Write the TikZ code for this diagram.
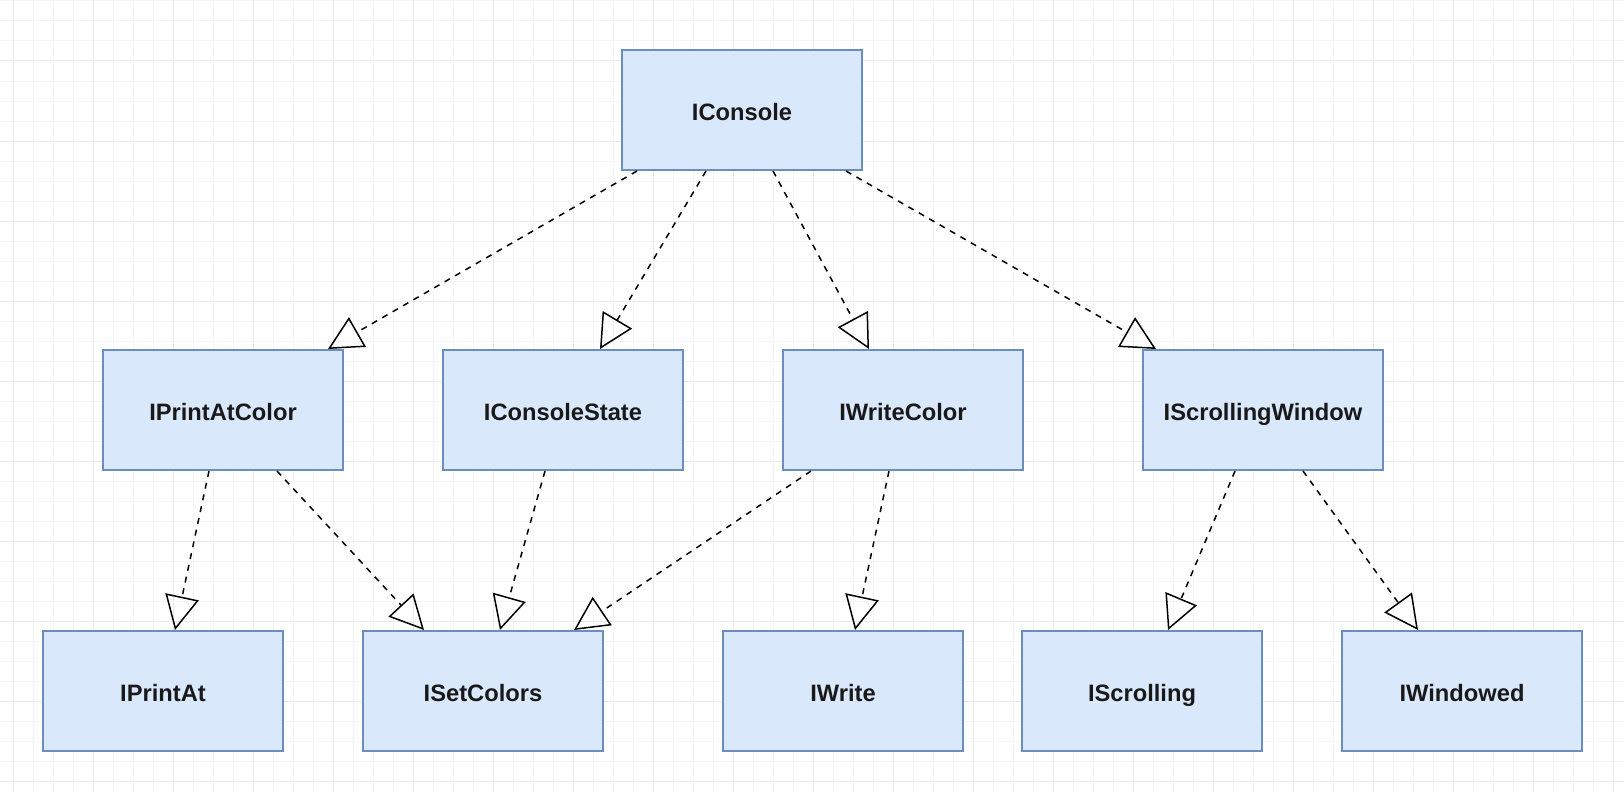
\documentclass[tikz,border=0pt]{standalone}
\usepackage{fontspec}
\setmainfont{Liberation Sans}
\usetikzlibrary{arrows.meta}
\definecolor{boxfill}{HTML}{DAE8FC}
\definecolor{boxline}{HTML}{6C8EBF}
\definecolor{gridminor}{HTML}{F5F5F5}
\definecolor{gridmajor}{HTML}{EAEAEA}
\begin{document}
\begin{tikzpicture}[x=1pt,y=-1pt,
  cls/.style={draw=boxline,fill=boxfill,line width=2pt,minimum width=240pt,minimum height=120pt,
    inner sep=0pt,text height=25pt,text depth=4pt,
    font=\fontsize{23.7}{28}\selectfont\bfseries,text=black!90},
  real/.style={draw=black,line width=1.5pt,dash pattern=on 6pt off 6pt,
    -{Triangle[open,length=34pt,width=34pt,line width=1.5pt]}}]
\useasboundingbox (0,0) rectangle (1624,792);
\fill[white] (0,0) rectangle (1624,792);
\foreach \x in {13,33,...,1613} \draw[gridminor,line width=1pt] (\x,0) -- (\x,792);
\foreach \y in {1,21,...,781} \draw[gridminor,line width=1pt] (0,\y) -- (1624,\y);
\foreach \x in {13,93,...,1613} \draw[gridmajor,line width=1pt] (\x,0) -- (\x,792);
\foreach \y in {61,141,...,781} \draw[gridmajor,line width=1pt] (0,\y) -- (1624,\y);

\node[cls] (ic) at (742,110) {IConsole};
\node[cls] (ipac) at (223,410) {IPrintAtColor};
\node[cls] (ics) at (563,410) {IConsoleState};
\node[cls] (iwc) at (903,410) {IWriteColor};
\node[cls] (isw) at (1263,410) {IScrollingWindow};
\node[cls] (ipa) at (163,691) {IPrintAt};
\node[cls] (isc) at (483,691) {ISetColors};
\node[cls] (iw) at (843,691) {IWrite};
\node[cls] (is) at (1142,691) {IScrolling};
\node[cls] (iwd) at (1462,691) {IWindowed};

\draw[real] ([xshift=16pt]ic.south west) -- ([xshift=226pt]ipac.north west);
\draw[real] ([xshift=85pt]ic.south west) -- ([xshift=158pt]ics.north west);
\draw[real] ([xshift=152pt]ic.south west) -- ([xshift=87pt]iwc.north west);
\draw[real] ([xshift=225pt]ic.south west) -- ([xshift=14pt]isw.north west);
\draw[real] ([xshift=107pt]ipac.south west) -- ([xshift=133pt]ipa.north west);
\draw[real] ([xshift=175pt]ipac.south west) -- ([xshift=62pt]isc.north west);
\draw[real] ([xshift=103pt]ics.south west) -- ([xshift=138pt]isc.north west);
\draw[real] ([xshift=29pt]iwc.south west) -- ([xshift=212pt]isc.north west);
\draw[real] ([xshift=107pt]iwc.south west) -- ([xshift=133pt]iw.north west);
\draw[real] ([xshift=93pt]isw.south west) -- ([xshift=147pt]is.north west);
\draw[real] ([xshift=161pt]isw.south west) -- ([xshift=77pt]iwd.north west);
\end{tikzpicture}
\end{document}
